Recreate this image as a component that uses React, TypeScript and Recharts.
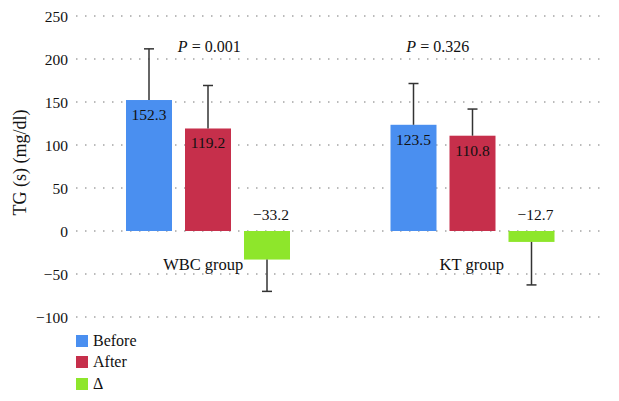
import { BarChart, Bar, XAxis, YAxis, CartesianGrid, LabelList, ReferenceDot } from 'recharts';

// ---------- data ----------
const groups = ['WBC group', 'KT group'];
const before = [152.3, 123.5];
const after = [119.2, 110.8];
const delta = [-33.2, -12.7];
const beforeErr = [59.5, 48];
const afterErr = [50, 31];
const deltaErr = [37, 50];
const pValues = ['0.001', '0.326'];
const yTicks = [-100, -50, 0, 50, 100, 150, 200, 250];

const series = [
  { key: 'before', errKey: 'beforeErr', name: 'Before', color: '#4a8ff0' },
  { key: 'after', errKey: 'afterErr', name: 'After', color: '#c62f4b' },
  { key: 'delta', errKey: 'deltaErr', name: '\u0394', color: '#8ee62b' },
];

const rows = groups.map((g, i) => ({
  group: g,
  before: before[i],
  after: after[i],
  delta: delta[i],
  beforeErr: beforeErr[i],
  afterErr: afterErr[i],
  deltaErr: deltaErr[i],
  p: pValues[i],
}));

const FONT = '"Liberation Serif", "DejaVu Serif", serif';

const fmt = (v: number) => (v < 0 ? '\u2212' + Math.abs(v) : String(v));

// bar with a one-sided error whisker
const makeShape = (dataKey: string, errKey: string) => (props: any) => {
  const { x, y, width, height, fill, payload } = props;
  const v = payload[dataKey];
  const err = payload[errKey];
  const top = Math.min(y, y + height);
  const bottom = Math.max(y, y + height);
  const ppu = Math.abs(height) / Math.abs(v);
  const cx = x + width / 2;
  const start = v >= 0 ? top : bottom;
  const end = v >= 0 ? top - err * ppu : bottom + err * ppu;
  return (
    <g>
      <rect x={x} y={top} width={width} height={bottom - top} fill={fill} />
      <line x1={cx} y1={start} x2={cx} y2={end} stroke="#333" strokeWidth={1.5} />
      <line x1={cx - 5} y1={end} x2={cx + 5} y2={end} stroke="#333" strokeWidth={1.5} />
    </g>
  );
};

const valueLabel = (props: any) => {
  const { x, y, width, height, value } = props;
  const top = Math.min(y, y + height);
  const ty = value >= 0 ? top + 20 : top - 11;
  return (
    <text x={x + width / 2 + (value < 0 ? 4 : 0)} y={ty} textAnchor="middle" fontFamily={FONT} fontSize={15.5} fill="#111">
      {fmt(value)}
    </text>
  );
};

function YLabel({ viewBox }: any) {
  const cx = 20;
  const cy = viewBox.y + viewBox.height / 2 - 4;
  return (
    <text
      x={cx}
      y={cy}
      transform={`rotate(-90 ${cx} ${cy})`}
      textAnchor="middle"
      dominantBaseline="central"
      fontFamily={FONT}
      fontSize={18}
      fill="#111"
    >
      TG (s) (mg/dl)
    </text>
  );
}

export default function App() {
  return (
    <div style={{ position: 'absolute', left: 0, top: 0, width: 619, height: 401, background: '#fff' }}>
      <BarChart
        width={619}
        height={401}
        data={rows}
        margin={{ top: 16, right: 14, left: 0, bottom: 84 }}
        barSize={46}
        barGap={13}
      >
        <CartesianGrid vertical={false} stroke="#777" strokeDasharray="1.5 7.5" />
        <XAxis dataKey="group" hide />
        <YAxis
          width={76}
          domain={[-100, 250]}
          ticks={yTicks}
          axisLine={false}
          tickLine={false}
          tickFormatter={fmt}
          tick={{ fontFamily: FONT, fontSize: 15.5, fill: '#111' }}
          label={<YLabel />}
        />
        {series.map((s) => (
          <Bar
            key={s.key}
            dataKey={s.key}
            name={s.name}
            fill={s.color}
            isAnimationActive={false}
            shape={makeShape(s.key, s.errKey)}
          >
            <LabelList dataKey={s.key} content={valueLabel} />
          </Bar>
        ))}
        {rows.map((r, i) => (
          <ReferenceDot
            key={'p' + r.group}
            x={r.group}
            y={250}
            r={0}
            label={({ viewBox }: any) => (
              <text
                x={viewBox.x + (i === 0 ? 1 : -35)}
                y={viewBox.y + 36}
                textAnchor="middle"
                fontFamily={FONT}
                fontSize={16}
                fill="#111"
              >
                <tspan fontStyle="italic">P</tspan> = {r.p}
              </text>
            )}
          />
        ))}
        {rows.map((r, i) => (
          <ReferenceDot
            key={'g' + r.group}
            x={r.group}
            y={0}
            r={0}
            label={({ viewBox }: any) => (
              <text
                x={viewBox.x + (i === 0 ? -5 : -1)}
                y={viewBox.y + 39}
                textAnchor="middle"
                fontFamily={FONT}
                fontSize={16.5}
                fill="#111"
              >
                {r.group}
              </text>
            )}
          />
        ))}
      </BarChart>
      <div style={{ position: 'absolute', left: 76, top: 330, fontFamily: FONT, fontSize: 16, color: '#111' }}>
        {series.map((s) => (
          <div key={s.key} style={{ display: 'flex', alignItems: 'center', height: 21.5 }}>
            <span style={{ width: 12, height: 12, background: s.color, display: 'inline-block', marginRight: 5 }} />
            <span>{s.name}</span>
          </div>
        ))}
      </div>
    </div>
  );
}
